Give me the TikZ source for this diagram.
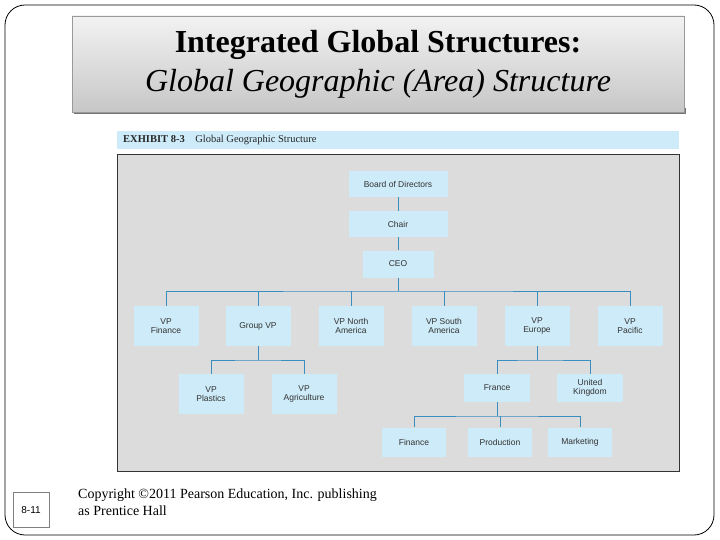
\documentclass[tikz,border=0pt]{standalone}
\usepackage{fontspec}
\setmainfont{Liberation Serif}
\newfontfamily\chartfont{Liberation Sans}
\usetikzlibrary{shadows}
\definecolor{boxblue}{HTML}{CDEBF8}
\definecolor{linkblue}{HTML}{3A8DBF}
\definecolor{panel}{HTML}{DCDCDC}
\tikzset{
 org/.style={draw=none,fill=boxblue,inner sep=0pt,align=center,font=\chartfont\fontsize{8.5}{9.5}\selectfont,text=black!80},
 lnk/.style={draw=linkblue,line width=0.8pt}
}
\begin{document}
\begin{tikzpicture}[x=1pt,y=-1pt]
\useasboundingbox (0,0) rectangle (720,540);
\draw[rounded corners=20pt,line width=0.8pt] (5,5) rectangle (714,535);
\fill[black!55] (74,108) rectangle (686,114);
\node[draw=black!40,minimum width=612pt,minimum height=96pt,top color=black!5,bottom color=black!22,inner sep=0pt,align=center,font=\fontsize{32}{39}\selectfont] (title) at (378,64)
 {\textbf{Integrated Global Structures:}\\\textit{Global Geographic (Area) Structure}};
\fill[boxblue] (117,131) rectangle (679,149);
\node[anchor=west,inner sep=0pt,font=\fontsize{10.5}{11}\selectfont,text=black!85] (ex) at (123,140) {\textbf{EXHIBIT 8-3}\quad Global Geographic Structure};
\node[draw=black!80,line width=1pt,fill=panel,minimum width=562pt,minimum height=316pt,inner sep=0pt] (panel) at (398,313) {};
\node[org,minimum width=99pt,minimum height=26pt] (bod) at (398,184) {Board of Directors};
\node[org,minimum width=99pt,minimum height=26pt] (chair) at (398,224) {Chair};
\node[org,minimum width=71pt,minimum height=27pt] (ceo) at (398,264) {CEO};
\foreach \n/\x/\t in {fin/166/{VP\\Finance},gvp/258/{Group VP},na/351/{VP North\\America},sa/444/{VP South\\America},eu/537/{VP\\Europe},pac/630/{VP\\Pacific}}
 \node[org,minimum width=65pt,minimum height=40pt] (\n) at (\x,326) {\t};
\node[org,minimum width=65pt,minimum height=40pt] (pla) at (211,394) {VP\\Plastics};
\node[org,minimum width=65pt,minimum height=40pt] (agr) at (304,394) {VP\\Agriculture};
\node[org,minimum width=66pt,minimum height=28pt] (fr) at (497,388) {France};
\node[org,minimum width=66pt,minimum height=28pt] (uk) at (590,388) {United\\Kingdom};
\foreach \n/\x/\t in {ffin/414/Finance,prod/500/Production,mkt/580/Marketing}
 \node[org,minimum width=64pt,minimum height=29pt] (\n) at (\x,442) {\t};
\draw[lnk] (bod) -- (chair);
\draw[lnk] (chair) -- (ceo);
\coordinate (b1) at (398,291);
\draw[lnk] (ceo) -- (b1);
\draw[lnk] (fin.north) |- (b1) -| (pac.north);
\foreach \n in {gvp,na,sa,eu} \draw[lnk] (\n.north) -- (\n.north |- b1);
\coordinate (b2) at (258,360);
\draw[lnk] (gvp) -- (b2);
\draw[lnk] (pla.north) |- (b2) -| (agr.north);
\coordinate (b3) at (537,360);
\draw[lnk] (eu) -- (b3);
\draw[lnk] (fr.north) |- (b3) -| (uk.north);
\coordinate (b4) at (497,416);
\draw[lnk] (fr) -- (b4);
\draw[lnk] (ffin.north) |- (b4) -| (mkt.north);
\draw[lnk] (prod.north) -- (prod.north |- b4);
\node[draw=black!50,minimum width=36pt,minimum height=35pt,inner sep=0pt,font=\chartfont\fontsize{10}{12}\selectfont] (pg) at (31,510) {8-11};
\node[anchor=north west,align=left,inner sep=0pt,font=\fontsize{14}{17}\selectfont] (copy) at (78,489) {Copyright ©2011 Pearson Education, Inc. publishing\\as Prentice Hall};
\end{tikzpicture}
\end{document}
